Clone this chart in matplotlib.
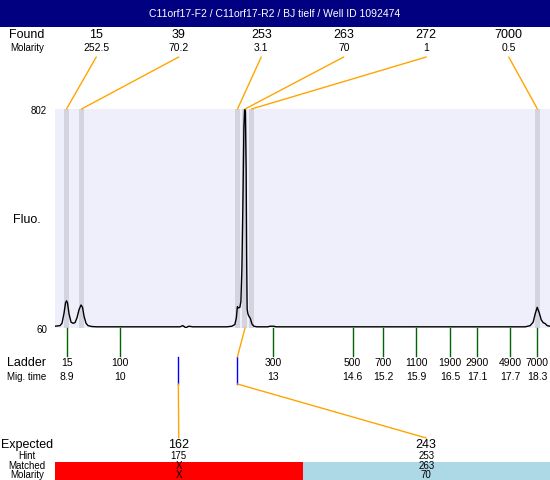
import matplotlib.pyplot as plt
from matplotlib.patches import Rectangle
from matplotlib.transforms import blended_transform_factory

plt.rcParams['font.family'] = ['Liberation Sans', 'DejaVu Sans']

# ================================
# DATA
# ================================

TITLE = "C11orf17-F2 / C11orf17-R2 / BJ tielf / Well ID 1092474"

# electropherogram trace: migration time (s), fluorescence
trace_t = [8.666, 8.766, 8.806, 8.846, 8.876, 8.896, 8.916, 8.946, 8.986, 9.026,
           9.066, 9.106, 9.146, 9.186, 9.216, 9.246, 9.286, 9.326, 9.40, 9.50,
           11.16, 11.22, 11.28, 11.34, 11.42, 12.10, 12.20, 12.26, 12.29, 12.31,
           12.33, 12.36, 12.38, 12.40, 12.42, 12.44, 12.455, 12.47, 12.485, 12.495,
           12.505, 12.52, 12.54, 12.57, 12.60, 12.64, 12.70, 12.92, 12.96, 13.04,
           13.08, 18.06, 18.16, 18.22, 18.26, 18.30, 18.34, 18.38, 18.42, 18.46,
           18.50, 18.556]
trace_f = [66, 68, 76, 110, 145, 152, 145, 108, 80, 76,
           78, 95, 122, 138, 130, 100, 76, 68, 65, 64,
           64, 68, 61, 66, 64, 64, 66, 72, 95, 132,
           128, 130, 150, 260, 480, 740, 802, 790, 600, 300,
           125, 108, 100, 92, 74, 66, 64, 64, 66, 66,
           64, 64, 68, 80, 108, 130, 112, 88, 78, 75,
           68, 66]

Y_MIN, Y_MAX = 60, 802
X_MIN, X_MAX = 8.666, 18.556

# ladder
ladder_size = ["15", "100", "300", "500", "700", "1100", "1900", "2900", "4900", "7000"]
ladder_mig = ["8.9", "10", "13", "14.6", "15.2", "15.9", "16.5", "17.1", "17.7", "18.3"]
ladder_time = [8.90, 9.97, 13.03, 14.61, 15.22, 15.88, 16.56, 17.10, 17.76, 18.30]

# found peaks
found_size = ["15", "39", "253", "263", "272", "7000"]
found_molarity = ["252.5", "70.2", "3.1", "70", "1", "0.5"]
found_time = [8.896, 9.196, 12.312, 12.462, 12.592, 18.305]

# expected products
expected_size = ["162", "243"]
expected_hint = ["175", "253"]
expected_matched = ["X", "263"]
expected_molarity = ["X", "70"]
expected_time = [11.13, 12.31]
matched_found = [None, 3]   # index into found peaks

# ================================
# LAYOUT (pixels)
# ================================
W, H = 550, 480
PLOT_L, PLOT_R, PLOT_T, PLOT_B = 55, 550, 109, 328

def fx(px):
    return px / W

def fy(py):
    return 1 - py / H

LAVENDER = "#EFEFFB"
BAND = "#D4D4E0"
ORANGE = "#FFA500"
GREEN = "#006400"

ROW_EXP, ROW_HINT, ROW_MATCH, ROW_MOL = 445, 456, 466, 475

fig = plt.figure(figsize=(5.5, 4.8), dpi=100)

# title bar
fig.add_artist(Rectangle((0, fy(27)), 1, 27 / H, transform=fig.transFigure,
                         color="#000080", lw=0))
fig.text(0.5, fy(14), TITLE, color="white", fontsize=7.5, ha="center", va="center")

# main plot
ax = fig.add_axes([fx(PLOT_L), fy(PLOT_B), fx(PLOT_R) - fx(PLOT_L), fy(PLOT_T) - fy(PLOT_B)])
ax.set_facecolor(LAVENDER)
ax.set_xlim(X_MIN, X_MAX)
ax.set_ylim(Y_MIN, Y_MAX)
ax.set_xticks([])
ax.set_yticks([])
for s in ax.spines.values():
    s.set_visible(False)

for t in found_time:
    ax.axvspan(t - 0.05, t + 0.05, color=BAND, lw=0)
ax.plot(trace_t, trace_f, color="black", lw=1)

bt = blended_transform_factory(ax.transData, fig.transFigure)
bt_ax = blended_transform_factory(ax.transData, ax.transAxes)

# left labels
lab_x = fx(27)
fig.text(lab_x, fy(35), "Found", fontsize=9, ha="center", va="center")
fig.text(lab_x, fy(48), "Molarity", fontsize=7, ha="center", va="center")
fig.text(fx(47), fy(111), str(Y_MAX), fontsize=7, ha="right", va="center")
fig.text(fx(47), fy(330), str(Y_MIN), fontsize=7, ha="right", va="center")
fig.text(lab_x, fy(220), "Fluo.", fontsize=9, ha="center", va="center")
fig.text(lab_x, fy(363), "Ladder", fontsize=9, ha="center", va="center")
fig.text(lab_x, fy(377), "Mig. time", fontsize=7, ha="center", va="center")
fig.text(lab_x, fy(ROW_EXP), "Expected", fontsize=9, ha="center", va="center")
fig.text(lab_x, fy(ROW_HINT), "Hint", fontsize=7, ha="center", va="center")
fig.text(lab_x, fy(ROW_MATCH), "Matched", fontsize=7, ha="center", va="center")
fig.text(lab_x, fy(ROW_MOL), "Molarity", fontsize=7, ha="center", va="center")

# found peaks labels + connectors
ncol = len(found_size)
colw = (PLOT_R - PLOT_L) / ncol
for i, (sz, mol, t) in enumerate(zip(found_size, found_molarity, found_time)):
    cx = PLOT_L + (i + 0.5) * colw
    fig.text(fx(cx), fy(35), sz, fontsize=9, ha="center", va="center")
    fig.text(fx(cx), fy(48), mol, fontsize=7.5, ha="center", va="center")
    ax.annotate("", xy=(t, 1.0), xycoords=bt_ax,
                xytext=(fx(cx), fy(57)), textcoords="figure fraction",
                arrowprops=dict(arrowstyle="-", color=ORANGE, lw=1,
                                shrinkA=0, shrinkB=0),
                annotation_clip=False)

# ladder ticks + labels
for sz, mig, t in zip(ladder_size, ladder_mig, ladder_time):
    ax.plot([t, t], [fy(PLOT_B), fy(356)], color=GREEN, lw=1,
            transform=bt, clip_on=False)
    ax.text(t, fy(363), sz, fontsize=7.5, ha="center", va="center", transform=bt)
    ax.text(t, fy(377), mig, fontsize=7.5, ha="center", va="center", transform=bt)

# expected table
tab = fig.add_axes([fx(PLOT_L), 0, fx(PLOT_R) - fx(PLOT_L), fy(462)])
nexp = len(expected_size)
cell_colors = ["red" if m == "X" else "lightblue" for m in expected_matched]
tab.bar(range(nexp), 1, width=1, align="edge", color=cell_colors, lw=0)
tab.set_xlim(0, nexp)
tab.set_ylim(0, 1)
tab.axis("off")
bt_tab = blended_transform_factory(tab.transData, fig.transFigure)

for j in range(nexp):
    tab.text(j + 0.5, fy(ROW_EXP), expected_size[j], fontsize=9, ha="center", va="center",
             transform=bt_tab)
    tab.text(j + 0.5, fy(ROW_HINT), expected_hint[j], fontsize=7, ha="center", va="center",
             transform=bt_tab)
    tab.text(j + 0.5, fy(ROW_MATCH), expected_matched[j], fontsize=7, ha="center",
             va="center", transform=bt_tab)
    tab.text(j + 0.5, fy(ROW_MOL), expected_molarity[j], fontsize=7, ha="center",
             va="center", transform=bt_tab)

    te = expected_time[j]
    # blue marker at expected migration time
    ax.plot([te, te], [fy(357), fy(384)], color="blue", lw=1, transform=bt, clip_on=False)
    # connector from marker to expected label
    ax.annotate("", xy=(j + 0.5, fy(438)), xycoords=bt_tab,
                xytext=(te, fy(384)), textcoords=bt,
                arrowprops=dict(arrowstyle="-", color=ORANGE, lw=1,
                                shrinkA=0, shrinkB=0),
                annotation_clip=False)
    # connector from matched peak to marker
    if matched_found[j] is not None:
        tp = found_time[matched_found[j]]
        ax.annotate("", xy=(te, fy(357)), xycoords=bt,
                    xytext=(tp, 0.0), textcoords=bt_ax,
                    arrowprops=dict(arrowstyle="-", color=ORANGE, lw=1,
                                    shrinkA=0, shrinkB=0),
                    annotation_clip=False)

fig.savefig("out.png", dpi=100)
